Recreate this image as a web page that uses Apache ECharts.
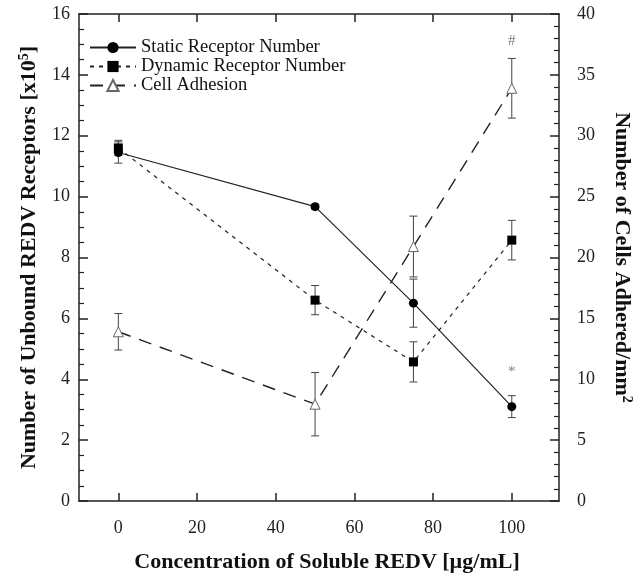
<!DOCTYPE html>
<html>
<head>
<meta charset="utf-8">
<title>Soluble REDV</title>
<script src="https://cdn.jsdelivr.net/npm/echarts@6/dist/echarts.min.js"></script>
</head>
<body style="margin:0;background:#fff">
<div id="main" style="width:642px;height:588px;"></div>
<script>
// concentration of soluble REDV [ug/mL]
var concentration = [0, 50, 75, 100];
// receptors x10^5 (left axis)
var staticMean = [11.45, 9.67, 6.5, 3.1];
var staticErr = [0.35, 0.08, 0.79, 0.36];
var dynamicMean = [11.6, 6.6, 4.57, 8.57];
var dynamicErr = [0.25, 0.48, 0.66, 0.65];
// cells / mm2 (right axis)
var cellMean = [13.9, 7.95, 20.9, 33.9];
var cellErr = [1.5, 2.6, 2.5, 2.45];
var xTicks = [0, 20, 40, 60, 80, 100];
// significance marks: [text, x, left-axis value]
var notes = [['#', 100, 15.1], ['*', 100, 4.25]];

var serif = 'Liberation Serif';
var ink = '#222';

var myChart = echarts.init(document.getElementById('main'));

function pairs(means) {
    return concentration.map(function (c, i) { return [c, means[i]]; });
}

function errSeries(means, errs, axis) {
    return {
        type: 'custom',
        yAxisIndex: axis,
        z: 1,
        silent: true,
        encode: { x: 0, y: [1, 2] },
        data: concentration.map(function (c, i) {
            return [c, means[i] - errs[i], means[i] + errs[i]];
        }),
        renderItem: function (params, api) {
            var lo = api.coord([api.value(0), api.value(1)]);
            var hi = api.coord([api.value(0), api.value(2)]);
            var w = 4;
            var st = { stroke: '#444', lineWidth: 1 };
            return {
                type: 'group',
                children: [
                    { type: 'line', shape: { x1: lo[0], y1: lo[1], x2: hi[0], y2: hi[1] }, style: st },
                    { type: 'line', shape: { x1: lo[0] - w, y1: lo[1], x2: lo[0] + w, y2: lo[1] }, style: st },
                    { type: 'line', shape: { x1: hi[0] - w, y1: hi[1], x2: hi[0] + w, y2: hi[1] }, style: st }
                ]
            };
        }
    };
}

var axisLine = { show: true, onZero: false, lineStyle: { color: ink, width: 1.5 } };
var titleRich = {
    a: { fontFamily: serif, fontSize: 22, fontWeight: 'bold', color: '#111' },
    s: { fontFamily: serif, fontSize: 14, fontWeight: 'bold', color: '#111', verticalAlign: 'top', padding: [0, 0, 11, 0] }
};

myChart.setOption({
    animation: false,
    grid: { left: 79, right: 67, top: 14, bottom: 87 },
    legend: {
        orient: 'vertical',
        left: 84,
        top: 33,
        itemWidth: 46,
        itemHeight: 14,
        itemGap: 0,
        data: ['Static Receptor Number', 'Dynamic Receptor Number', 'Cell Adhesion'],
        textStyle: { fontFamily: serif, fontSize: 18.5, lineHeight: 16, color: '#111' }
    },
    xAxis: [{
        type: 'value',
        min: -10,
        max: 112,
        position: 'bottom',
        name: 'Concentration of Soluble REDV [\u00b5g/mL]',
        nameLocation: 'middle',
        nameGap: 50,
        nameTextStyle: { fontFamily: serif, fontSize: 22, fontWeight: 'bold', color: '#111', padding: [0, 0, 0, 16] },
        axisLine: axisLine,
        axisTick: { inside: true, length: 8, customValues: xTicks, lineStyle: { color: ink, width: 1.5 } },
        axisLabel: { customValues: xTicks, margin: 18, fontFamily: serif, fontSize: 18, color: '#222' },
        splitLine: { show: false }
    }, {
        type: 'value',
        min: -10,
        max: 112,
        position: 'top',
        axisLine: axisLine,
        axisTick: { inside: true, length: 8, customValues: xTicks, lineStyle: { color: ink, width: 1.5 } },
        axisLabel: { show: false },
        splitLine: { show: false }
    }],
    yAxis: [{
        type: 'value',
        min: 0,
        max: 16,
        interval: 2,
        position: 'left',
        name: '{a|Number of Unbound REDV Receptors [x10}{s|5}{a|]}',
        nameLocation: 'middle',
        nameRotate: 90,
        nameGap: 37,
        nameTextStyle: { rich: titleRich },
        axisLine: axisLine,
        axisTick: { inside: true, length: 9, lineStyle: { color: ink, width: 1.5 } },
        minorTick: { show: true, splitNumber: 4, length: 5, lineStyle: { color: ink, width: 1.2 } },
        axisLabel: { margin: 9, fontFamily: serif, fontSize: 18, color: '#222' },
        splitLine: { show: false }
    }, {
        type: 'value',
        min: 0,
        max: 40,
        interval: 5,
        position: 'right',
        name: '{a|Number of Cells Adhered/mm}{s|2}',
        nameLocation: 'middle',
        nameRotate: -90,
        nameGap: 50,
        nameTextStyle: { rich: titleRich },
        axisLine: axisLine,
        axisTick: { inside: true, length: 9, lineStyle: { color: ink, width: 1.5 } },
        minorTick: { show: true, splitNumber: 5, length: 5, lineStyle: { color: ink, width: 1.2 } },
        axisLabel: { margin: 18, fontFamily: serif, fontSize: 18, color: '#222' },
        splitLine: { show: false }
    }],
    series: [
        errSeries(staticMean, staticErr, 0),
        errSeries(dynamicMean, dynamicErr, 0),
        errSeries(cellMean, cellErr, 1),
        {
            name: 'Static Receptor Number',
            type: 'line',
            data: pairs(staticMean),
            symbol: 'circle',
            symbolSize: 9,
            itemStyle: { color: '#000' },
            lineStyle: { color: ink, width: 1.2, type: 'solid' },
            z: 3
        },
        {
            name: 'Dynamic Receptor Number',
            type: 'line',
            data: pairs(dynamicMean),
            symbol: 'rect',
            symbolSize: 9,
            itemStyle: { color: '#000' },
            lineStyle: { color: ink, width: 1.2, type: [4, 5] },
            z: 4
        },
        {
            name: 'Cell Adhesion',
            type: 'line',
            yAxisIndex: 1,
            data: pairs(cellMean),
            symbol: 'triangle',
            symbolSize: 10,
            itemStyle: { color: '#fff', borderColor: '#666', borderWidth: 1 },
            lineStyle: { color: ink, width: 1.4, type: [13, 9] },
            z: 3
        },
        {
            type: 'scatter',
            symbolSize: 0,
            silent: true,
            data: notes.map(function (n) { return { value: [n[1], n[2]], note: n[0] }; }),
            label: {
                show: true,
                position: 'inside',
                formatter: function (p) { return p.data.note; },
                fontFamily: serif,
                fontSize: 15,
                color: '#555'
            }
        }
    ]
});
</script>
</body>
</html>
